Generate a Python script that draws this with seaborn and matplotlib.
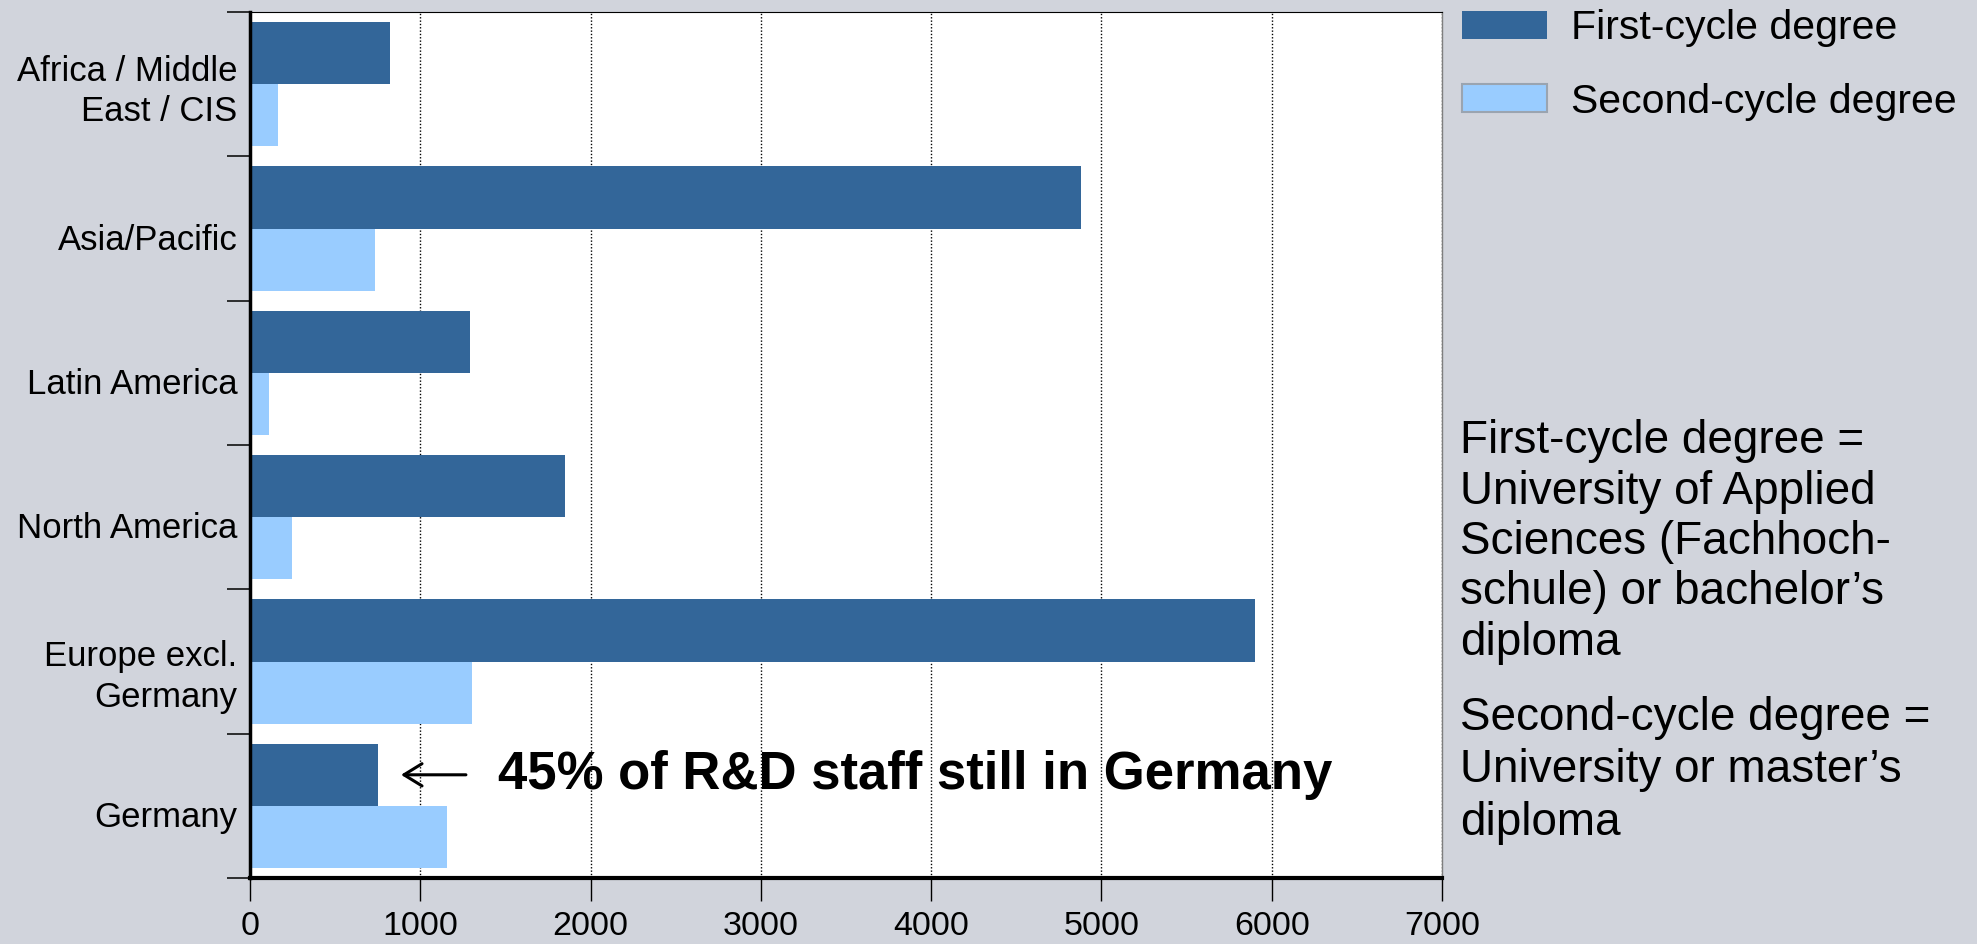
import numpy as np
import pandas as pd
import matplotlib
matplotlib.use("Agg")
import matplotlib.pyplot as plt
import matplotlib.transforms as mtransforms
from matplotlib.patches import Patch
from matplotlib.ticker import FixedLocator
import seaborn as sns

# ---- data -------------------------------------------------------------
regions = [
    "Africa / Middle\nEast / CIS",
    "Asia/Pacific",
    "Latin America",
    "North America",
    "Europe excl.\nGermany",
    "Germany",
]
first_cycle = [820, 4880, 1290, 1850, 5900, 750]
second_cycle = [165, 735, 112, 245, 1305, 1155]
series_names = ["First-cycle degree", "Second-cycle degree"]
x_ticks = [0, 1000, 2000, 3000, 4000, 5000, 6000, 7000]

note_first = [
    "First-cycle degree =",
    "University of Applied",
    "Sciences (Fachhoch-",
    "schule) or bachelor\u2019s",
    "diploma",
]
note_second = [
    "Second-cycle degree =",
    "University or master\u2019s",
    "diploma",
]
callout = "45% of R&D staff still in Germany"

df = pd.DataFrame({
    "region": regions * 2,
    "degree": [series_names[0]] * len(regions) + [series_names[1]] * len(regions),
    "staff": first_cycle + second_cycle,
})

# ---- style ------------------------------------------------------------
sns.set_theme(style="white")
plt.rcParams["font.family"] = ["Liberation Sans", "DejaVu Sans"]
plt.rcParams["text.color"] = "black"

BG = "#D1D4DC"
DARK = "#336699"
LIGHT = "#99CCFF"

W, H = 1977, 944
fig = plt.figure(figsize=(W / 100, H / 100), dpi=100, facecolor=BG)
ax = fig.add_axes([250 / W, 1 - 878 / H, (1442 - 250) / W, (878 - 12) / H])
ax.set_facecolor("white")

sns.barplot(
    data=df, y="region", x="staff", hue="degree",
    order=regions, hue_order=series_names,
    palette=[DARK, LIGHT], orient="h", width=0.86,
    saturation=1, linewidth=0, errorbar=None, legend=False, ax=ax,
)

ax.set_xlim(0, 7000)
ax.set_ylim(len(regions) - 0.5, -0.5)
ax.set_xticks(x_ticks)
ax.set_xticklabels([str(t) for t in x_ticks])
ax.set_xlabel("")
ax.set_ylabel("")

# dotted vertical gridlines behind the bars
ax.xaxis.grid(True, linestyle=(0, (1, 1.4)), color="black", linewidth=1.0)
ax.yaxis.grid(False)
ax.set_axisbelow(True)

# ticks
ax.tick_params(axis="x", which="major", direction="out", length=16.5, width=1,
               color="black", pad=7, labelsize=24.5, labelcolor="black", bottom=True)
ax.yaxis.set_minor_locator(FixedLocator(np.arange(-0.5, len(regions), 1.0)))
ax.tick_params(axis="y", which="major", length=0, pad=9, labelsize=25,
               labelcolor="black", left=True)
ax.tick_params(axis="y", which="minor", direction="out", length=16.5, width=1.1,
               color="black", left=True)

# region labels sit a little below the category centre; the top one a bit higher
for i, lab in enumerate(ax.get_yticklabels()):
    dy = -8 if i > 0 else 0
    shift = mtransforms.ScaledTranslation(0, dy / 100, fig.dpi_scale_trans)
    lab.set_transform(lab.get_transform() + shift)
    lab.set_linespacing(1.3)

# spines
ax.spines["left"].set(color="black", linewidth=2.5)
ax.spines["bottom"].set(color="black", linewidth=3.0)
ax.spines["top"].set(color="black", linewidth=0.8)
ax.spines["right"].set(color="#7F7F7F", linewidth=1.0)

# legend
handles = [
    Patch(facecolor=DARK, edgecolor=DARK, linewidth=0),
    Patch(facecolor=LIGHT, edgecolor="#9AA4B0", linewidth=1.5),
]
fig.legend(handles, series_names, loc="upper left",
           bbox_to_anchor=(1462 / W, 1 - 9 / H), frameon=False, fontsize=29.5,
           handlelength=2.07, handleheight=0.68, handletextpad=0.6,
           labelspacing=0.87, borderpad=0, borderaxespad=0)

# explanatory notes on the right
def draw_lines(lines, first_baseline, spacing):
    for i, line in enumerate(lines):
        fig.text(1460 / W, 1 - (first_baseline + i * spacing) / H, line,
                 fontsize=33, ha="left", va="baseline")

draw_lines(note_first, 453, 50.5)
draw_lines(note_second, 730, 52.5)

# callout next to the Germany first-cycle bar
g = regions.index("Germany")
y_bar = g - 0.86 / 4
ax.text(1456, y_bar, callout, fontsize=38, fontweight="bold",
        ha="left", va="center")
ax.annotate("", xy=(887, y_bar), xytext=(1268, y_bar),
            arrowprops=dict(arrowstyle="->,head_length=0.65,head_width=0.4",
                            lw=2.2, color="black", mutation_scale=20,
                            shrinkA=0, shrinkB=0))

fig.savefig("out.png", dpi=100, facecolor=BG)
